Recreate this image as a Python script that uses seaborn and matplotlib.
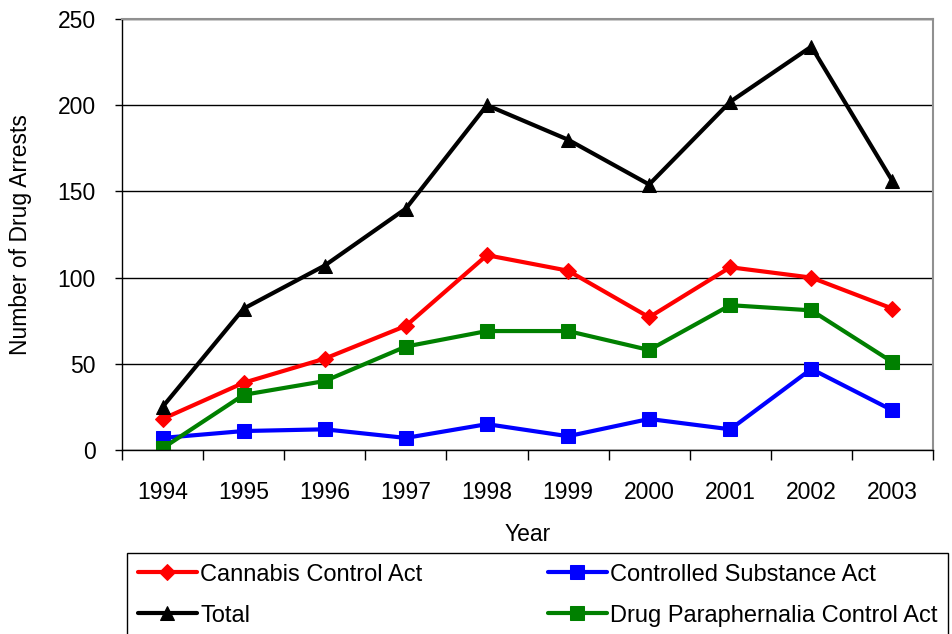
import numpy as np
import pandas as pd
import matplotlib
matplotlib.use("Agg")
import matplotlib.pyplot as plt
import seaborn as sns

years = ["1994", "1995", "1996", "1997", "1998", "1999", "2000", "2001", "2002", "2003"]
cannabis = [18, 39, 53, 72, 113, 104, 77, 106, 100, 82]
controlled = [7, 11, 12, 7, 15, 8, 18, 12, 47, 23]
total = [25, 82, 107, 140, 200, 180, 154, 202, 234, 156]
paraphernalia = [1, 32, 40, 60, 69, 69, 58, 84, 81, 51]

sns.set_style("white")
plt.rcParams["font.family"] = ["Liberation Sans", "DejaVu Sans"]
plt.rcParams["text.color"] = "black"
plt.rcParams["axes.labelcolor"] = "black"
plt.rcParams["xtick.color"] = "black"
plt.rcParams["ytick.color"] = "black"

fig = plt.figure(figsize=(9.53, 6.34), dpi=100)
ax = fig.add_axes([122 / 953, 1 - 450 / 634, 811 / 953, 431 / 634])

pos = np.arange(len(years))
series = [
    ("Cannabis Control Act", cannabis, "#ff0000", "D", 8.5),
    ("Total", total, "#000000", "^", 10.5),
    ("Controlled Substance Act", controlled, "#0000ff", "s", 9.5),
    ("Drug Paraphernalia Control Act", paraphernalia, "#008000", "s", 9.5),
]
for name, vals, col, mk, ms in series:
    df = pd.DataFrame({"pos": pos, "value": vals})
    sns.lineplot(data=df, x="pos", y="value", ax=ax, color=col, marker=mk,
                 markersize=ms, markeredgecolor=col, linewidth=3, label=name)

ax.set_xlim(-0.5, len(years) - 0.5)
ax.set_ylim(0, 250)
ax.set_yticks([0, 50, 100, 150, 200, 250])
ax.set_xticks(pos)
ax.set_xticklabels(years)
ax.set_xticks(np.arange(-0.5, len(years), 1), minor=True)
ax.tick_params(axis="x", which="major", length=0, labelsize=16.5, pad=22)
ax.tick_params(axis="x", which="minor", length=7, width=1, color="#000000", direction="out", bottom=True)
ax.tick_params(axis="y", length=5, width=1, color="#000000", direction="out", left=True, labelsize=16.5, pad=14)
ax.yaxis.grid(True, color="#000000", linewidth=1)
ax.set_axisbelow(True)

for s in ["top", "right"]:
    ax.spines[s].set_color("#909090")
    ax.spines[s].set_linewidth(1.5)
for s in ["left", "bottom"]:
    ax.spines[s].set_color("#000000")
    ax.spines[s].set_linewidth(1)

ax.set_xlabel("Year", fontsize=16.5, labelpad=14)
ax.set_ylabel("Number of Drug Arrests", fontsize=16.5, labelpad=18)

ax.get_legend().remove()
handles, labels = ax.get_legend_handles_labels()
leg = fig.legend(handles, labels, ncol=2, loc="upper left",
                 bbox_to_anchor=(127 / 953, 1 - 553 / 634), fontsize=17,
                 frameon=True, fancybox=False, edgecolor="#000000", framealpha=1,
                 handlelength=2.5, handletextpad=0.15, columnspacing=5.3,
                 labelspacing=0.8, borderpad=0.45, borderaxespad=0)
leg.get_frame().set_linewidth(1)

fig.savefig("out.png", dpi=100)
